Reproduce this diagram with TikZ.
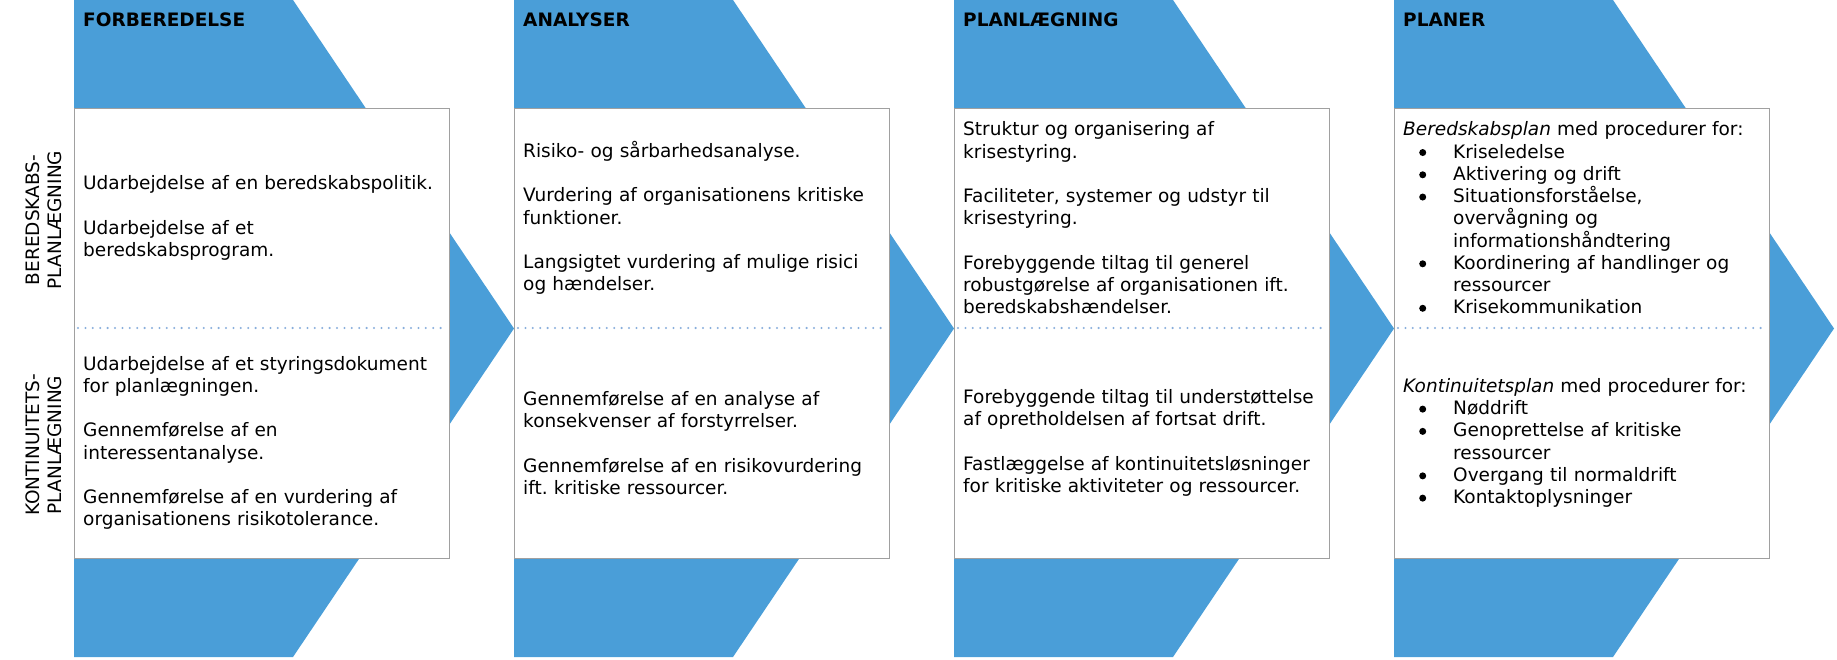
\documentclass[tikz,border=0pt]{standalone}
\usepackage{fontspec}
\setmainfont{DejaVu Sans}
\frenchspacing
\definecolor{chevblue}{HTML}{4A9ED8}
\definecolor{boxgrey}{HTML}{A0A0A0}
\definecolor{dotblue}{HTML}{88AEDC}
\newcommand\bdot{\tikz[baseline=-5.6pt]\fill[black] (0pt,0pt) circle (3.5pt);}
\newcommand\bitem[1]{\par\noindent\hangindent=50pt\hangafter=1\makebox[50pt][l]{\hspace{16pt}\bdot}#1}
\newcommand\nl{\hfil\break}
\tikzset{
  chev/.style={fill=chevblue},
  panel/.style={draw=boxgrey,line width=1pt,fill=white,minimum width=375pt,minimum height=450pt,inner sep=0pt,anchor=north west},
  sep/.style={draw=dotblue,line width=2.3pt,line cap=round,dash pattern=on 0pt off 7.4pt},
  head/.style={anchor=base west,inner sep=0pt,font=\fontsize{18.5}{22.25}\selectfont\bfseries},
  body/.style={anchor=west,inner sep=0pt,align=left,text width=420pt,font=\fontsize{18.5}{22.25}\selectfont},
  side/.style={rotate=90,align=center,inner sep=0pt,font=\fontsize{18.5}{22.25}\selectfont}
}
\begin{document}
\begin{tikzpicture}[x=1pt,y=-1pt]
\useasboundingbox (0,0) rectangle (1837,660);
% chevrons
\foreach \L in {74,514,954,1394}{
  \fill[chev] (\L,0) -- (\L+219,0) -- (\L+440,328.5) -- (\L+219,657) -- (\L,657) -- cycle;
}
% panels
\node[panel] (b1) at (74,108) {};
\node[panel] (b2) at (514,108) {};
\node[panel] (b3) at (954,108) {};
\node[panel] (b4) at (1394,108) {};
\foreach \L in {74,514,954,1394}{
  \draw[sep] (\L+4,328) -- (\L+371,328);
}
% headers
\node[head] (h1) at (83,27) {FORBEREDELSE};
\node[head] (h2) at (523,27) {ANALYSER};
\node[head] (h3) at (963,27) {PLANLÆGNING};
\node[head] (h4) at (1403,27) {PLANER};
% side labels
\node[side] (s1) at (44,220) {BEREDSKABS-\\PLANLÆGNING};
\node[side] (s2) at (44,445) {KONTINUITETS-\\PLANLÆGNING};
% box 1
\node[body] (t1a) at (83,218) {Udarbejdelse af en beredskabspolitik.\\[22.25pt]Udarbejdelse af et\\beredskabsprogram.};
\node[body] (t1b) at (83,443) {Udarbejdelse af et styringsdokument\\for planlægningen.\\[22.25pt]Gennemførelse af en\\interessentanalyse.\\[22.25pt]Gennemførelse af en vurdering af\\organisationens risikotolerance.};
% box 2
\node[body] (t2a) at (523,218) {Risiko- og sårbarhedsanalyse.\\[22.25pt]Vurdering af organisationens kritiske\\funktioner.\\[22.25pt]Langsigtet vurdering af mulige risici\\og hændelser.};
\node[body] (t2b) at (523,443) {Gennemførelse af en analyse af\\konsekvenser af forstyrrelser.\\[22.25pt]Gennemførelse af en risikovurdering\\ift. kritiske ressourcer.};
% box 3
\node[body] (t3a) at (963,218) {Struktur og organisering af\\krisestyring.\\[22.25pt]Faciliteter, systemer og udstyr til\\krisestyring.\\[22.25pt]Forebyggende tiltag til generel\\robustgørelse af organisationen ift.\\beredskabshændelser.};
\node[body] (t3b) at (963,443) {Forebyggende tiltag til understøttelse\\af opretholdelsen af fortsat drift.\\[22.25pt]Fastlæggelse af kontinuitetsløsninger\\for kritiske aktiviteter og ressourcer.};
% box 4
\node[body] (t4a) at (1403,218) {\textit{Beredskabsplan} med procedurer for:%
\bitem{Kriseledelse}%
\bitem{Aktivering og drift}%
\bitem{Situationsforståelse,\nl overvågning og\nl informationshåndtering}%
\bitem{Koordinering af handlinger og\nl ressourcer}%
\bitem{Krisekommunikation}};
\node[body] (t4b) at (1403,443) {\textit{Kontinuitetsplan} med procedurer for:%
\bitem{Nøddrift}%
\bitem{Genoprettelse af kritiske\nl ressourcer}%
\bitem{Overgang til normaldrift}%
\bitem{Kontaktoplysninger}};
\end{tikzpicture}
\end{document}
